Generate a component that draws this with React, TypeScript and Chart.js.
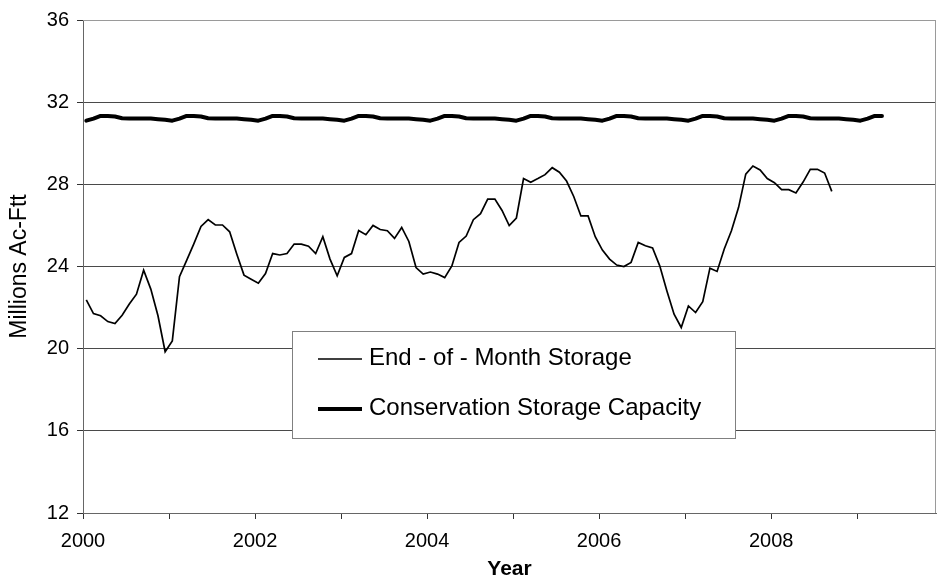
import { useEffect, useRef } from 'react';
import { Chart, registerables } from 'chart.js';

Chart.register(...registerables);

const FONT = '"Liberation Sans", Arial, Helvetica, sans-serif';

// Monthly values, starting January 2000
const START_YEAR = 2000;
const LAST_MONTH_INDEX = 119; // December 2009 (axis end)

const YEAR_TICKS = [2000, 2001, 2002, 2003, 2004, 2005, 2006, 2007, 2008, 2009];
const YEAR_LABELS = ['2000', '', '2002', '', '2004', '', '2006', '', '2008', ''];

const Y_MIN = 12;
const Y_MAX = 36;
const Y_STEP = 4;

const SERIES_LABELS = ['End - of - Month Storage', 'Conservation Storage Capacity'];

// End-of-month storage (millions ac-ft), Jan 2000 - Sep 2008
const storage = [
  22.38, 21.71, 21.6, 21.32, 21.22, 21.63, 22.17, 22.65, 23.82, 22.9, 21.6, 19.85,
  20.38, 23.5, 24.3, 25.1, 25.95, 26.28, 26.02, 26.02, 25.69, 24.6, 23.58, 23.38,
  23.19, 23.66, 24.63, 24.56, 24.63, 25.09, 25.09, 24.99, 24.63, 25.45, 24.36, 23.55,
  24.44, 24.63, 25.75, 25.55, 26.0, 25.8, 25.74, 25.37, 25.9, 25.22, 23.95, 23.63,
  23.73, 23.63, 23.46, 24.03, 25.17, 25.48, 26.28, 26.57, 27.28, 27.28, 26.73, 25.99,
  26.36, 28.28, 28.1, 28.28, 28.47, 28.81, 28.59, 28.16, 27.41, 26.46, 26.46, 25.45,
  24.8, 24.36, 24.07, 24.0, 24.2, 25.17, 25.01, 24.9, 24.03, 22.81, 21.68, 21.03,
  22.08, 21.76, 22.29, 23.92, 23.76, 24.85, 25.74, 26.88, 28.5, 28.89, 28.7, 28.28,
  28.08, 27.74, 27.74, 27.58, 28.11, 28.73, 28.73, 28.55, 27.66,
];

// Conservation storage capacity (millions ac-ft), Jan 2000 - Apr 2009
const capacity = [
  31.1, 31.2, 31.33, 31.33, 31.3, 31.22, 31.2, 31.2, 31.2, 31.2, 31.17, 31.14,
  31.1, 31.2, 31.33, 31.33, 31.3, 31.22, 31.2, 31.2, 31.2, 31.2, 31.17, 31.14,
  31.1, 31.2, 31.33, 31.33, 31.3, 31.22, 31.2, 31.2, 31.2, 31.2, 31.17, 31.14,
  31.1, 31.2, 31.33, 31.33, 31.3, 31.22, 31.2, 31.2, 31.2, 31.2, 31.17, 31.14,
  31.1, 31.2, 31.33, 31.33, 31.3, 31.22, 31.2, 31.2, 31.2, 31.2, 31.17, 31.14,
  31.1, 31.2, 31.33, 31.33, 31.3, 31.22, 31.2, 31.2, 31.2, 31.2, 31.17, 31.14,
  31.1, 31.2, 31.33, 31.33, 31.3, 31.22, 31.2, 31.2, 31.2, 31.2, 31.17, 31.14,
  31.1, 31.2, 31.33, 31.33, 31.3, 31.22, 31.2, 31.2, 31.2, 31.2, 31.17, 31.14,
  31.1, 31.2, 31.33, 31.33, 31.3, 31.22, 31.2, 31.2, 31.2, 31.2, 31.17, 31.14,
  31.1, 31.2, 31.33, 31.33,
];

const monthToYear = (i: number) => START_YEAR + (i + 0.46) / 12;
const toPoints = (values: number[]) => values.map((v, i) => ({ x: monthToYear(i), y: v }));

const framePlugin = {
  id: 'plotFrame',
  beforeDatasetsDraw(chart: any) {
    const { ctx, chartArea } = chart;
    ctx.save();
    ctx.strokeStyle = '#9a9a9a';
    ctx.lineWidth = 1;
    ctx.beginPath();
    ctx.moveTo(Math.round(chartArea.left), Math.round(chartArea.top) + 0.5);
    ctx.lineTo(Math.round(chartArea.right) - 0.5, Math.round(chartArea.top) + 0.5);
    ctx.lineTo(Math.round(chartArea.right) - 0.5, Math.round(chartArea.bottom));
    ctx.stroke();
    ctx.restore();
  },
};

const boxLegendPlugin = {
  id: 'boxLegend',
  afterDatasetsDraw(chart: any) {
    const { ctx, chartArea } = chart;
    const x = Math.round(chartArea.left + 209);
    const y = Math.round(chartArea.top + 311);
    const w = 443;
    const h = 107;
    ctx.save();
    ctx.fillStyle = '#ffffff';
    ctx.fillRect(x, y, w, h);
    ctx.strokeStyle = '#808080';
    ctx.lineWidth = 1;
    ctx.strokeRect(x + 0.5, y + 0.5, w, h);
    const rows = [
      { label: SERIES_LABELS[0], width: 1.6, cy: y + 28 },
      { label: SERIES_LABELS[1], width: 4, cy: y + 78 },
    ];
    ctx.font = `24px ${FONT}`;
    ctx.textBaseline = 'middle';
    ctx.textAlign = 'left';
    for (const r of rows) {
      ctx.strokeStyle = '#000';
      ctx.lineWidth = r.width;
      ctx.beginPath();
      ctx.moveTo(x + 26, r.cy);
      ctx.lineTo(x + 70, r.cy);
      ctx.stroke();
      ctx.fillStyle = '#000';
      ctx.fillText(r.label, x + 77, r.cy - 1);
    }
    ctx.restore();
  },
};

export default function App() {
  const canvasRef = useRef<HTMLCanvasElement | null>(null);

  useEffect(() => {
    const canvas = canvasRef.current;
    if (!canvas) return;
    const chart = new Chart(canvas, {
      type: 'line',
      data: {
        datasets: [
          {
            label: SERIES_LABELS[0],
            data: toPoints(storage),
            borderColor: '#000',
            backgroundColor: '#000',
            borderWidth: 1.7,
            pointRadius: 0,
            tension: 0,
            fill: false,
          },
          {
            label: SERIES_LABELS[1],
            data: toPoints(capacity),
            borderColor: '#000',
            backgroundColor: '#000',
            borderWidth: 4,
            borderCapStyle: 'round',
            borderJoinStyle: 'round',
            pointRadius: 0,
            tension: 0,
            fill: false,
          },
        ],
      },
      options: {
        responsive: false,
        animation: false,
        events: [],
        layout: { padding: { left: 0, right: 1, top: 18, bottom: 0 } },
        plugins: {
          legend: { display: false },
          tooltip: { enabled: false },
          title: { display: false },
        },
        scales: {
          x: {
            type: 'linear',
            min: START_YEAR,
            max: START_YEAR + LAST_MONTH_INDEX / 12,
            afterBuildTicks: (scale: any) => {
              scale.ticks = YEAR_TICKS.map((v) => ({ value: v }));
            },
            afterFit: (scale: any) => {
              scale.height = 66;
            },
            ticks: {
              autoSkip: false,
              maxRotation: 0,
              minRotation: 0,
              color: '#000',
              padding: 10,
              font: { family: FONT, size: 20 },
              callback: (_v: any, i: number) => YEAR_LABELS[i] ?? '',
            },
            grid: {
              drawOnChartArea: false,
              drawTicks: true,
              tickLength: 6,
              tickColor: '#333',
            },
            border: { color: '#666', width: 1 },
            title: {
              display: true,
              text: 'Year',
              color: '#000',
              font: { family: FONT, size: 21, weight: 'bold', lineHeight: 0.9 },
              padding: 0,
            },
          },
          y: {
            min: Y_MIN,
            max: Y_MAX,
            afterFit: (scale: any) => {
              scale.width = 83;
            },
            ticks: {
              stepSize: Y_STEP,
              color: '#000',
              padding: 8,
              font: { family: FONT, size: 20 },
            },
            grid: {
              color: (ctx: any) => (ctx.tick && ctx.tick.value === Y_MAX ? '#9a9a9a' : '#4a4a4a'),
              tickLength: 6,
              tickColor: '#333',
              lineWidth: 1,
            },
            border: { color: '#666', width: 1 },
            title: {
              display: true,
              text: 'Millions Ac-Ftt',
              color: '#000',
              font: { family: FONT, size: 23 },
              padding: { top: 6, bottom: 0 },
            },
          },
        },
      },
      plugins: [framePlugin, boxLegendPlugin],
    } as any);
    return () => chart.destroy();
  }, []);

  return (
    <div style={{ position: 'fixed', left: 0, top: 0, width: 937, height: 579, background: '#fff' }}>
      <canvas ref={canvasRef} width={937} height={579} style={{ width: 937, height: 579, display: 'block' }} />
    </div>
  );
}
